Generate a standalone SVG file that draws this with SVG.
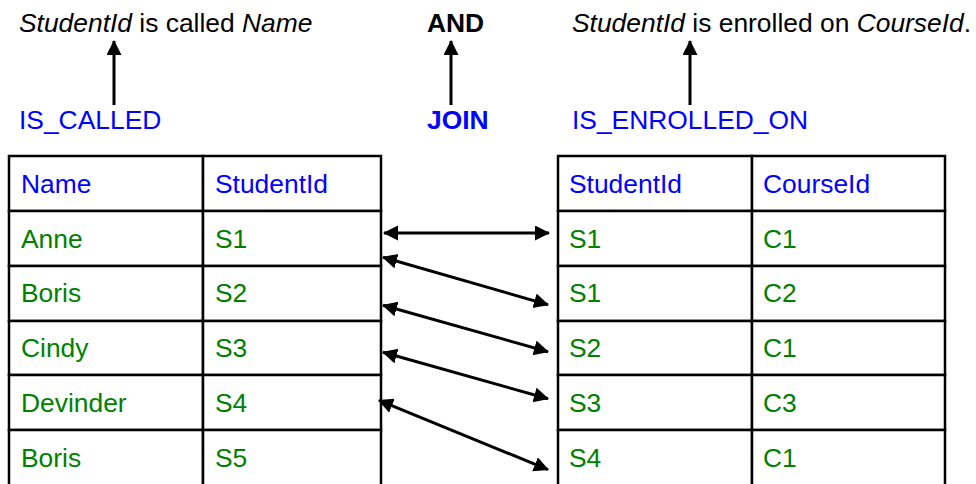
<svg xmlns="http://www.w3.org/2000/svg" width="976" height="484" viewBox="0 0 976 484">
<style>
text{font-family:"Liberation Sans",Arial,sans-serif;font-size:26.4px}
.k{fill:#000}
.b{fill:#0000ff}
.g{fill:#008000}
.bold{font-weight:bold}
.it{font-style:italic}
.cell{fill:#fff;stroke:#000;stroke-width:2.5}
.con{stroke:#000;stroke-width:3;fill:none}
</style>
<defs>
<marker id="ah" markerUnits="userSpaceOnUse" markerWidth="17" markerHeight="17" refX="14" refY="7.5" orient="auto-start-reverse">
<path d="M0,0 L15,7.5 L0,15 z" fill="#000"/>
</marker>
</defs>
<rect width="976" height="484" fill="#fff"/>

<g id="sentence1"><text x="19" y="32" class="k"><tspan class="it">StudentId</tspan> is called <tspan class="it">Name</tspan></text></g>
<g id="and"><text x="427" y="32" class="k bold">AND</text></g>
<g id="sentence2"><text x="572" y="32" class="k"><tspan class="it">StudentId</tspan> is enrolled on <tspan class="it">CourseId</tspan>.</text></g>

<g id="is_called"><text x="19" y="129" class="b">IS_CALLED</text></g>
<g id="join"><text x="427" y="129" class="b bold">JOIN</text></g>
<g id="is_enrolled_on"><text x="572" y="129" class="b">IS_ENROLLED_ON</text></g>

<g id="table_is_called">
<rect class="cell" x="9" y="156" width="194" height="55"/><rect class="cell" x="203" y="156" width="178" height="55"/>
<rect class="cell" x="9" y="211" width="194" height="55"/><rect class="cell" x="203" y="211" width="178" height="55"/>
<rect class="cell" x="9" y="266" width="194" height="55"/><rect class="cell" x="203" y="266" width="178" height="55"/>
<rect class="cell" x="9" y="321" width="194" height="54"/><rect class="cell" x="203" y="321" width="178" height="54"/>
<rect class="cell" x="9" y="375" width="194" height="55"/><rect class="cell" x="203" y="375" width="178" height="55"/>
<rect class="cell" x="9" y="430" width="194" height="60"/><rect class="cell" x="203" y="430" width="178" height="60"/>
<text x="21" y="193" class="b">Name</text><text x="215" y="193" class="b">StudentId</text>
<text x="21" y="248" class="g">Anne</text><text x="215" y="248" class="g">S1</text>
<text x="21" y="302" class="g">Boris</text><text x="215" y="302" class="g">S2</text>
<text x="21" y="357" class="g">Cindy</text><text x="215" y="357" class="g">S3</text>
<text x="21" y="412" class="g">Devinder</text><text x="215" y="412" class="g">S4</text>
<text x="21" y="467" class="g">Boris</text><text x="215" y="467" class="g">S5</text>
</g>

<g id="table_is_enrolled_on">
<rect class="cell" x="558" y="156" width="194" height="55"/><rect class="cell" x="752" y="156" width="193" height="55"/>
<rect class="cell" x="558" y="211" width="194" height="55"/><rect class="cell" x="752" y="211" width="193" height="55"/>
<rect class="cell" x="558" y="266" width="194" height="55"/><rect class="cell" x="752" y="266" width="193" height="55"/>
<rect class="cell" x="558" y="321" width="194" height="54"/><rect class="cell" x="752" y="321" width="193" height="54"/>
<rect class="cell" x="558" y="375" width="194" height="55"/><rect class="cell" x="752" y="375" width="193" height="55"/>
<rect class="cell" x="558" y="430" width="194" height="60"/><rect class="cell" x="752" y="430" width="193" height="60"/>
<text x="569" y="193" class="b">StudentId</text><text x="763" y="193" class="b">CourseId</text>
<text x="569" y="248" class="g">S1</text><text x="763" y="248" class="g">C1</text>
<text x="569" y="302" class="g">S1</text><text x="763" y="302" class="g">C2</text>
<text x="569" y="357" class="g">S2</text><text x="763" y="357" class="g">C1</text>
<text x="569" y="412" class="g">S3</text><text x="763" y="412" class="g">C3</text>
<text x="569" y="467" class="g">S4</text><text x="763" y="467" class="g">C1</text>
</g>

<g id="connectors">
<line class="con" x1="114" y1="105" x2="114" y2="41" marker-end="url(#ah)"/>
<line class="con" x1="451" y1="105" x2="451" y2="41" marker-end="url(#ah)"/>
<line class="con" x1="690" y1="105" x2="690" y2="41" marker-end="url(#ah)"/>
<line class="con" x1="384" y1="233" x2="549" y2="233" marker-start="url(#ah)" marker-end="url(#ah)"/>
<line class="con" x1="383" y1="257.3" x2="548" y2="304.7" marker-start="url(#ah)" marker-end="url(#ah)"/>
<line class="con" x1="383" y1="305.3" x2="548" y2="351.7" marker-start="url(#ah)" marker-end="url(#ah)"/>
<line class="con" x1="383" y1="352.3" x2="548" y2="398.7" marker-start="url(#ah)" marker-end="url(#ah)"/>
<line class="con" x1="379" y1="400.4" x2="548" y2="469.6" marker-start="url(#ah)" marker-end="url(#ah)"/>
</g>
</svg>
